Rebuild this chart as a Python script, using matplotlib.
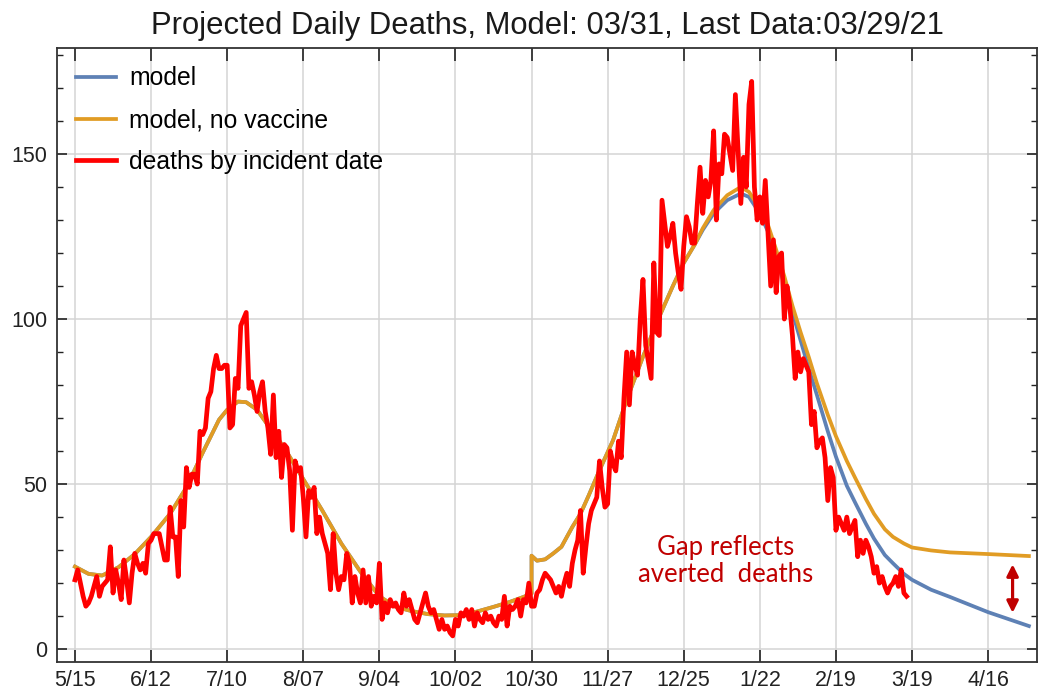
import matplotlib
matplotlib.use('Agg')
import matplotlib.pyplot as plt
from matplotlib.ticker import MultipleLocator
import pandas as pd

# daily deaths by incident date, starting 5/15/2020
start = pd.Timestamp('2020-05-15')
deaths = [
    21, 24, 20, 16, 13, 14, 16, 19, 22, 16, 19, 20, 21, 31, 17, 24, 20, 15, 27, 21,
    14, 23, 29, 26, 24, 26, 23, 32, 33, 35, 35, 35, 31, 27, 27, 43, 34, 34, 22, 45,
    37, 55, 49, 53, 53, 50, 66, 65, 67, 76, 78, 85, 89, 85, 85, 86, 86, 67, 68, 82,
    79, 98, 100, 102, 79, 81, 77, 72, 78, 81, 72, 67, 59, 77, 58, 66, 52, 62, 61, 54,
    36, 57, 54, 55, 46, 34, 48, 46, 49, 35, 40, 35, 32, 29, 18, 35, 23, 18, 22, 21,
    29, 26, 14, 22, 17, 14, 24, 14, 22, 13, 16, 14, 26, 9, 14, 11, 15, 13, 14, 12,
    11, 17, 13, 15, 12, 9, 8, 11, 14, 17, 13, 11, 12, 9, 6, 9, 6, 7, 5, 4,
    9, 7, 11, 10, 12, 9, 12, 7, 11, 9, 8, 11, 9, 10, 8, 7, 10, 9, 16, 7,
    13, 12, 13, 15, 10, 15, 14, 20, 13, 13, 17, 18, 21, 23, 22, 21, 19, 17, 19, 16,
    20, 23, 19, 26, 30, 33, 42, 23, 31, 38, 42, 44, 46, 57, 49, 43, 44, 60, 56, 54,
    63, 58, 76, 90, 74, 90, 86, 83, 100, 112, 92, 87, 82, 117, 96, 95, 136, 129, 122, 125,
    129, 120, 114, 109, 122, 131, 128, 123, 123, 135, 146, 132, 142, 137, 142, 157, 130, 147, 144, 156,
    155, 150, 145, 168, 151, 135, 149, 140, 165, 172, 140, 130, 137, 129, 142, 126, 110, 124, 108, 119,
    120, 100, 110, 104, 95, 82, 90, 84, 88, 86, 84, 68, 72, 61, 63, 64, 58, 45, 55, 52,
    36, 40, 38, 36, 40, 35, 37, 39, 28, 33, 29, 33, 31, 28, 23, 25, 20, 22, 19, 17,
    19, 20, 22, 19, 24, 17, 16,
]

# model curves (day offset from 5/15/2020)
model_days = [0, 5, 10, 16, 22, 28, 35, 41, 47, 53, 56, 60, 63, 67, 70, 77, 84, 91, 98, 105,
              112, 118, 124, 130, 136, 142, 148, 154, 160, 165, 168, 168, 170, 173, 176, 179, 183, 186, 189, 193,
              198, 203, 209, 215, 220, 224, 228, 231, 235, 240, 245, 248, 252, 255, 258, 261, 264, 267, 270, 273,
              277, 280, 284, 287, 291, 294, 298, 301, 305, 308, 315, 322, 336, 351]
no_vaccine = [25, 22.8, 22.3, 24.8, 28.8, 34, 41, 49, 59.5, 69.5, 72.5, 75, 74.8, 72.5, 69, 61, 51.5, 42, 32, 23.5,
              16, 12.8, 11.5, 10.6, 10.2, 10.3, 11.4, 12.8, 14.3, 15.8, 16.8, 28.3, 26.8, 27.2, 29, 31, 37, 41, 46.5, 54.2,
              63.3, 75.5, 88.6, 100.7, 110, 117, 122.5, 127.5, 133, 137.5, 140, 138.5, 133.5, 128.5, 121, 113, 104, 96, 88.5, 80.5,
              71, 64.5, 57, 52, 45.5, 41, 36.3, 34, 32, 30.8, 29.9, 29.3, 28.8, 28.2]
with_vaccine = [25, 22.8, 22.3, 24.8, 28.8, 34, 41, 49, 59.5, 69.5, 72.5, 75, 74.8, 72.5, 69, 61, 51.5, 42, 32, 23.5,
                16, 12.8, 11.5, 10.6, 10.2, 10.3, 11.4, 12.8, 14.3, 15.8, 16.8, 28.3, 26.8, 27.2, 29, 31, 37, 41, 46.5, 54.2,
                63.3, 75.5, 88.6, 100.7, 110, 117, 122.5, 127, 132, 136, 138, 137, 132, 126.5, 119, 110.5, 102, 93.5, 85, 77,
                66, 58.3, 49.5, 44.5, 38, 33.5, 28.5, 26, 22.8, 21, 18, 15.8, 11.2, 7]

tick_labels = ['5/15', '6/12', '7/10', '8/07', '9/04', '10/02', '10/30',
               '11/27', '12/25', '1/22', '2/19', '3/19', '4/16']

death_dates = pd.date_range(start, periods=len(deaths), freq='D')
model_dates = start + pd.to_timedelta(model_days, unit='D')
tick_dates = pd.date_range(start, periods=len(tick_labels), freq='28D')

plt.rcParams['font.family'] = ['Liberation Sans', 'DejaVu Sans']

fig = plt.figure(figsize=(10.41, 6.94), dpi=100)
ax = fig.add_axes([0.0548, 0.0461, 0.9414, 0.8847])

ax.plot(model_dates, with_vaccine, color='#5E81B5', lw=2.7, label='model', zorder=3)
ax.plot(model_dates, no_vaccine, color='#E19C24', lw=2.7, label='model, no vaccine', zorder=4)
ax.plot(death_dates, deaths, color='#FF0000', lw=3.4, label='deaths by incident date', zorder=5)

ax.set_xlim(start - pd.Timedelta(days=6.6), start + pd.Timedelta(days=354))
ax.set_ylim(-3.9, 182.1)

ax.set_xticks(tick_dates)
ax.set_xticklabels(tick_labels)
ax.yaxis.set_major_locator(MultipleLocator(50))
ax.yaxis.set_minor_locator(MultipleLocator(10))
ax.tick_params(axis='both', which='both', direction='in', top=True, right=True,
               labelsize=15.5, colors='#222222')
ax.tick_params(axis='x', which='major', length=9, width=1.2, pad=6)
ax.tick_params(axis='y', which='major', length=7, width=1.2, pad=7)
ax.tick_params(axis='y', which='minor', length=4.5, width=1.0)
ax.grid(True, which='major', color='#d4d4d4', lw=1.1)
ax.set_axisbelow(True)
for sp in ax.spines.values():
    sp.set_color('#333333')
    sp.set_linewidth(1.3)

ax.legend(loc='upper left', bbox_to_anchor=(0.0194, 0.97), frameon=False,
          fontsize=17.8, handlelength=1.6, handletextpad=0.55, labelspacing=0.72,
          borderpad=0, borderaxespad=0)

fig.text(0.5255, 0.962, 'Projected Daily Deaths, Model: 03/31, Last Data:03/29/21',
         ha='center', va='center', fontsize=22.3, color='#1a1a1a')

# annotation about the vaccine gap
ax.text(start + pd.Timedelta(days=239.3), 26.7, 'Gap reflects\naverted  deaths',
        ha='center', va='center', color='#C00000', fontsize=18.5,
        family=['Lato', 'DejaVu Sans'], linespacing=1.1)
arrow_x = start + pd.Timedelta(days=345)
ax.annotate('', xy=(arrow_x, 11.0), xytext=(arrow_x, 25.7),
            arrowprops=dict(arrowstyle='<|-|>', color='#C00000', lw=2.3,
                            mutation_scale=17, shrinkA=0, shrinkB=0))

fig.savefig('out.png', dpi=100)
